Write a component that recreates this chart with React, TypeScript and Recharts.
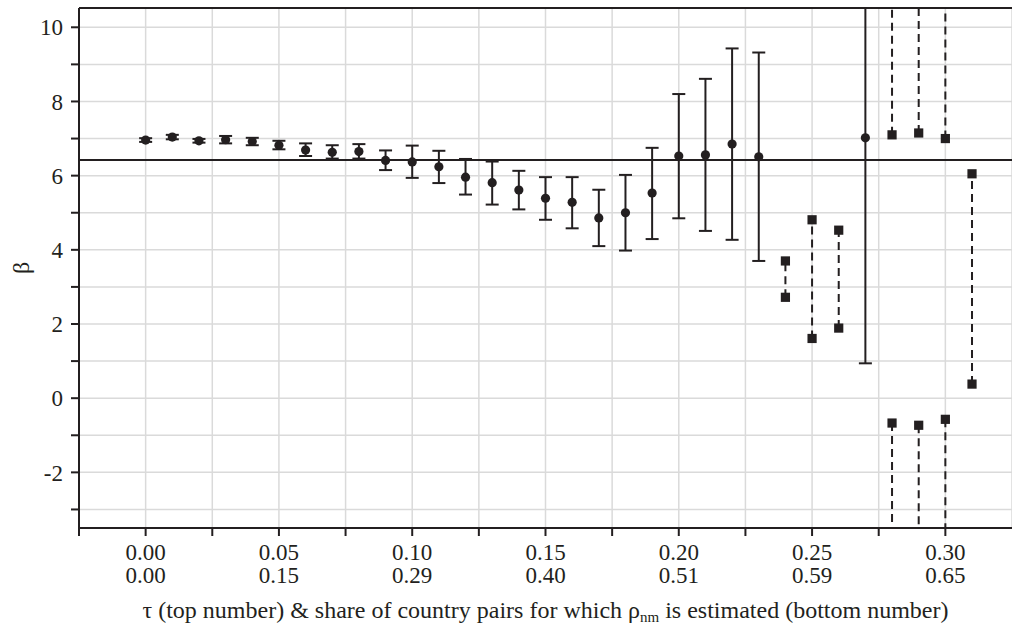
import React from 'react';
import {
  ScatterChart,
  Scatter,
  XAxis,
  YAxis,
  CartesianGrid,
  ReferenceLine,
  ErrorBar,
} from 'recharts';

// ---------- data ----------
// point estimates with regular confidence intervals (circles)
const TAU_POINT = [
  0.0, 0.01, 0.02, 0.03, 0.04, 0.05, 0.06, 0.07, 0.08, 0.09, 0.1, 0.11, 0.12,
  0.13, 0.14, 0.15, 0.16, 0.17, 0.18, 0.19, 0.2, 0.21, 0.22, 0.23, 0.27,
];
const BETA_POINT = [
  6.96, 7.04, 6.94, 6.97, 6.92, 6.82, 6.69, 6.63, 6.65, 6.41, 6.37, 6.24, 5.96,
  5.81, 5.61, 5.39, 5.28, 4.86, 5.0, 5.53, 6.53, 6.56, 6.85, 6.51, 7.02,
];
const CI_LOW = [
  6.91, 6.98, 6.89, 6.87, 6.82, 6.71, 6.53, 6.46, 6.46, 6.15, 5.94, 5.8, 5.49,
  5.22, 5.09, 4.81, 4.58, 4.1, 3.98, 4.29, 4.85, 4.51, 4.27, 3.7, 0.94,
];
// the last upper bound lies beyond the top of the axis; clamped to the axis top
const CI_HIGH = [
  7.01, 7.1, 6.99, 7.07, 7.02, 6.94, 6.87, 6.82, 6.85, 6.68, 6.81, 6.67, 6.45,
  6.38, 6.13, 5.96, 5.96, 5.62, 6.02, 6.75, 8.2, 8.61, 9.43, 9.32, 10.52,
];

// bounded confidence sets (squares joined by dashed line)
const TAU_BOUNDED = [0.24, 0.25, 0.26, 0.31];
const BOUNDED_LOW = [2.72, 1.61, 1.89, 0.38];
const BOUNDED_HIGH = [3.7, 4.81, 4.53, 6.05];

// unbounded confidence sets (two rays: (-inf, low] and [high, inf))
const TAU_UNBOUNDED = [0.28, 0.29, 0.3];
const UNBOUNDED_LOW = [-0.67, -0.73, -0.57];
const UNBOUNDED_HIGH = [7.1, 7.15, 7.0];

const BENCHMARK = 6.42;

// axes
const Y_MIN = -3.5;
const Y_MAX = 10.52;
const X_MIN = -0.025;
const X_MAX = 0.325;
const Y_TICKS = [-3, -2, -1, 0, 1, 2, 3, 4, 5, 6, 7, 8, 9, 10];
const X_TICKS = [
  -0.025, 0, 0.025, 0.05, 0.075, 0.1, 0.125, 0.15, 0.175, 0.2, 0.225, 0.25,
  0.275, 0.3,
];
const MAJOR_TICKS = [0, 0.05, 0.1, 0.15, 0.2, 0.25, 0.3];
const TAU_LABELS = ['0.00', '0.05', '0.10', '0.15', '0.20', '0.25', '0.30'];
const SHARE_LABELS = ['0.00', '0.15', '0.29', '0.40', '0.51', '0.59', '0.65'];

// ---------- style ----------
const INK = '#231f20';
const GRID = '#dadada';
const FONT = "'Liberation Serif', 'Times New Roman', Times, serif";
const FS = 23;
const TXT = { fontFamily: FONT, fontSize: FS };
const TITLE_TXT = { fontFamily: FONT, fontSize: 24 };

const pointData = TAU_POINT.map((t, i) => ({
  x: t,
  y: BETA_POINT[i],
  err: [BETA_POINT[i] - CI_LOW[i], CI_HIGH[i] - BETA_POINT[i]],
}));

const squareData = [
  ...TAU_BOUNDED.flatMap((t, i) => [
    { x: t, y: BOUNDED_LOW[i] },
    { x: t, y: BOUNDED_HIGH[i] },
  ]),
  ...TAU_UNBOUNDED.flatMap((t, i) => [
    { x: t, y: UNBOUNDED_LOW[i] },
    { x: t, y: UNBOUNDED_HIGH[i] },
  ]),
];

const CircleShape = (p: any) => (
  <circle cx={p.cx} cy={p.cy} r={4.6} fill={INK} />
);
const SquareShape = (p: any) => (
  <rect x={p.cx - 4.6} y={p.cy - 4.6} width={9.2} height={9.2} fill={INK} />
);

const XTick = (p: any) => {
  const v = p.payload?.value;
  const idx = MAJOR_TICKS.findIndex((m) => Math.abs(m - v) < 1e-9);
  if (idx < 0) return null;
  return (
    <g>
      <text x={p.x} y={p.y} dy={24} textAnchor="middle" style={TXT} fill={INK}>
        {TAU_LABELS[idx]}
      </text>
      <text x={p.x} y={p.y} dy={47} textAnchor="middle" style={TXT} fill={INK}>
        {SHARE_LABELS[idx]}
      </text>
    </g>
  );
};

const XTitle = (p: any) => {
  const vb = p.viewBox || {};
  const cx = vb.x + vb.width / 2;
  return (
    <text x={cx} y={vb.y + 90} textAnchor="middle" style={TITLE_TXT} fill={INK}>
      <tspan>τ (top number) &amp; share of country pairs for which ρ</tspan>
      <tspan style={{ fontSize: 15 }} dy={4}>
        nm
      </tspan>
      <tspan dy={-4}> is estimated (bottom number)</tspan>
    </text>
  );
};

const YTitle = (p: any) => {
  const vb = p.viewBox || {};
  const x = vb.x + 21;
  const y = vb.y + vb.height / 2;
  return (
    <text
      x={x}
      y={y}
      transform={`rotate(-90 ${x} ${y})`}
      textAnchor="middle"
      dominantBaseline="central"
      style={TITLE_TXT}
      fill={INK}
    >
      β
    </text>
  );
};

export default function App() {
  return (
    <div
      style={{
        position: 'absolute',
        left: 0,
        top: 0,
        width: 1012,
        height: 626,
        background: '#fff',
        fontFamily: FONT,
      }}
    >
      <ScatterChart
        width={1012}
        height={626}
        margin={{ top: 8, right: 0, bottom: 0, left: 0 }}
      >
        <CartesianGrid stroke={GRID} strokeWidth={1.5} />
        <XAxis
          type="number"
          dataKey="x"
          domain={[X_MIN, X_MAX]}
          ticks={X_TICKS}
          allowDataOverflow
          interval={0}
          height={98}
          axisLine={{ stroke: INK, strokeWidth: 2 }}
          tickLine={{ stroke: INK, strokeWidth: 2 }}
          tickSize={8}
          tickMargin={0}
          tick={<XTick />}
          label={<XTitle />}
        />
        <YAxis
          type="number"
          dataKey="y"
          domain={[Y_MIN, Y_MAX]}
          ticks={Y_TICKS}
          allowDataOverflow
          interval={0}
          width={79}
          axisLine={{ stroke: INK, strokeWidth: 2 }}
          tickLine={{ stroke: INK, strokeWidth: 2 }}
          tickSize={8}
          tickMargin={8}
          tick={{ style: TXT, fill: INK }}
          tickFormatter={(v: number) => (v % 2 === 0 ? String(v) : '')}
          label={<YTitle />}
        />
        <ReferenceLine y={Y_MAX} stroke={INK} strokeWidth={2} />
        <ReferenceLine y={BENCHMARK} stroke={INK} strokeWidth={2} />
        {TAU_BOUNDED.map((t, i) => (
          <ReferenceLine
            key={`b${i}`}
            segment={[
              { x: t, y: BOUNDED_LOW[i] },
              { x: t, y: BOUNDED_HIGH[i] },
            ]}
            stroke={INK}
            strokeWidth={2}
            strokeDasharray="8 5"
            ifOverflow="visible"
          />
        ))}
        {TAU_UNBOUNDED.map((t, i) => (
          <ReferenceLine
            key={`uh${i}`}
            segment={[
              { x: t, y: UNBOUNDED_HIGH[i] },
              { x: t, y: Y_MAX },
            ]}
            stroke={INK}
            strokeWidth={2}
            strokeDasharray="8 5"
            ifOverflow="visible"
          />
        ))}
        {TAU_UNBOUNDED.map((t, i) => (
          <ReferenceLine
            key={`ul${i}`}
            segment={[
              { x: t, y: UNBOUNDED_LOW[i] },
              { x: t, y: Y_MIN },
            ]}
            stroke={INK}
            strokeWidth={2}
            strokeDasharray="8 5"
            ifOverflow="visible"
          />
        ))}
        <Scatter
          data={pointData}
          dataKey="y"
          shape={<CircleShape />}
          isAnimationActive={false}
        >
          <ErrorBar
            dataKey="err"
            direction="y"
            width={6.5}
            stroke={INK}
            strokeWidth={2}
            isAnimationActive={false}
          />
        </Scatter>
        <Scatter
          data={squareData}
          dataKey="y"
          shape={<SquareShape />}
          isAnimationActive={false}
        />
      </ScatterChart>
    </div>
  );
}
